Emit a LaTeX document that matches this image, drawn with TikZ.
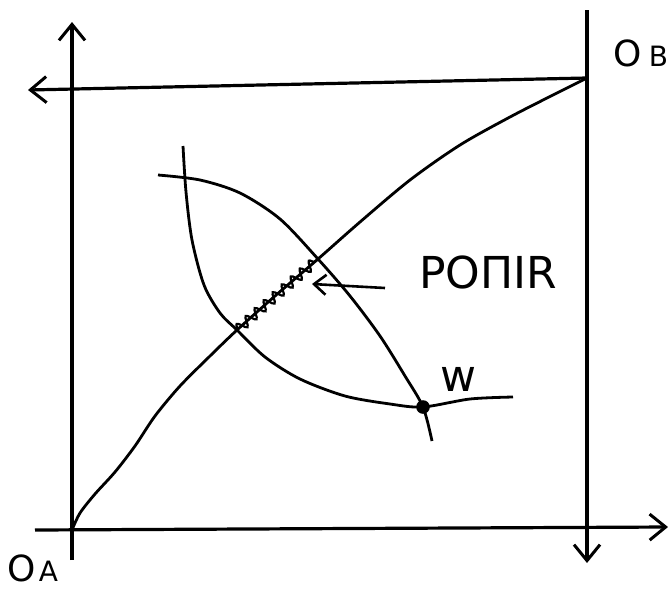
\documentclass[tikz,border=0pt]{standalone}
\usepackage{fontspec}
\setmainfont{DejaVu Sans}
\usetikzlibrary{positioning, arrows.meta, decorations.pathmorphing}

\begin{document}
\begin{tikzpicture}[
    x=0.5pt, y=-0.5pt, % pixel grid, y downwards
    axis/.style={line width=1.6pt, -{Straight Barb[length=8pt, width=13pt, line width=1.5pt]}},
    curve/.style={line width=1.4pt},
    wiggle/.style={line width=1.1pt, decorate, decoration={snake, segment length=6pt, amplitude=2.4pt}},
    pointer/.style={line width=1.3pt, -{Straight Barb[length=6pt, width=10pt, line width=1.3pt]}},
    lbl/.style={font=\fontsize{18}{18}\selectfont, inner sep=0pt}
]
\useasboundingbox (0,0) rectangle (668,594);

% origins and axis ends
\coordinate (OA) at (72,530);
\coordinate (OB) at (587,78);
\coordinate (ayb) at (72,560);
\coordinate (ayt) at (72,22);
\coordinate (axl) at (35,530);
\coordinate (axr) at (668,527);
\coordinate (byt) at (587,10);
\coordinate (byb) at (587,563);
\coordinate (bxl) at (28,90);

% consumer A axes
\draw[axis] (ayb) -- (ayt);
\draw[axis] (axl) -- (axr);
% consumer B axes
\draw[axis] (byt) -- (byb);
\draw[axis] (OB) -- (bxl);

% contract curve
\draw[curve] plot[smooth] coordinates {(72,530) (80,513) (95,494) (115,472) (135,446) (155,416) (180,386) (210,356) (237,330) (275,296) (318,259) (360,222) (410,180) (460,145) (510,117) (555,94) (587,78)};

% indifference curve of A
\draw[curve] plot[smooth] coordinates {(183,146) (186,192) (192,240) (204,285) (220,313) (237,330) (265,357) (300,379) (345,396) (390,404) (423,407) (470,399) (513,397)};

% indifference curve of B
\draw[curve] plot[smooth] coordinates {(158,175) (200,180) (240,193) (280,219) (318,259) (350,296) (380,336) (405,376) (423,407) (432,441)};

% endowment point
\fill (423,407) circle (3.4pt);
\coordinate (W) at (423,407);

% lens section of the contract curve
\coordinate (lensA) at (237,330);
\coordinate (lensB) at (318,259);
\draw[wiggle] (lensA) -- (lensB);

% labels
\node[lbl] (oa) at (22,568) {O};
\node[lbl, font=\fontsize{14}{14}\selectfont, right=1pt of oa.south east, anchor=south west] (oaSub) {A};
\node[lbl] (ob) at (628,53) {O};
\node[lbl, font=\fontsize{14}{14}\selectfont, right=3pt of ob.south east, anchor=south west] (obSub) {B};
\node[lbl, font=\fontsize{22}{22}\selectfont] (ponir) at (488,272) {POΠIR};
\coordinate (ptail) at (385,288);
\coordinate (phead) at (312,284);
\draw[pointer] (ptail) -- (phead);
\node[lbl, font=\fontsize{22}{22}\selectfont] (w) at (458,379) {w};
\end{tikzpicture}
\end{document}
